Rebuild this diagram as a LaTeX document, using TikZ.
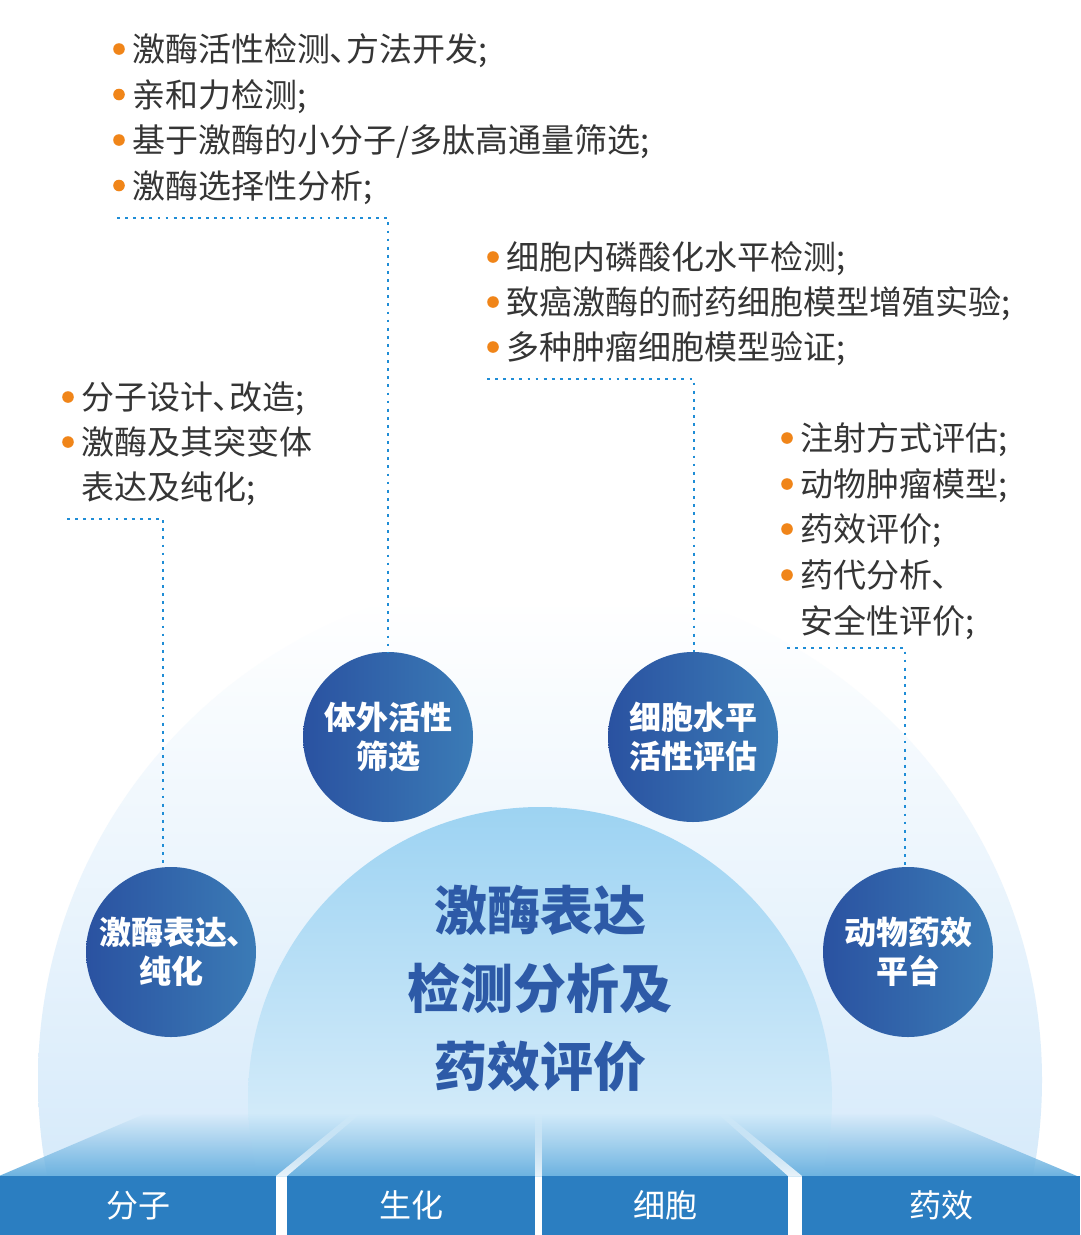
\documentclass[tikz,border=0pt]{standalone}
\usepackage{fontspec}
\usetikzlibrary{fadings}
\setmainfont{Noto Sans CJK SC}
\newfontfamily\paltfont[RawFeature=+palt]{Noto Sans CJK SC}
\definecolor{txtc}{HTML}{353535}
\definecolor{bulc}{HTML}{F08519}
\definecolor{dotc}{HTML}{1F8DD6}
\definecolor{cirL}{HTML}{2A52A1}
\definecolor{cirR}{HTML}{3B7BB6}
\definecolor{ctrc}{HTML}{2D5AA7}
\definecolor{barc}{HTML}{2B7EC1}
\definecolor{outB}{HTML}{D6EAFA}
\definecolor{innT}{HTML}{9DD3F2}
\definecolor{innB}{HTML}{DCEFFB}
\definecolor{trB}{HTML}{6CB2E0}
\newcommand\myitem[4]{%
  \fill[bulc] (#1,#2) circle (5.8);
  \node[itemtext] (#4) at ({#1+13},{#2+12.5}) {#3};}
\begin{document}
\begin{tikzpicture}[x=1pt,y=-1pt,
  itemtext/.style={anchor=base west,inner sep=0pt,text=txtc,font=\paltfont\fontsize{33}{40}\selectfont},
  dotline/.style={draw=dotc,line width=2.8pt,dash pattern=on 2.8pt off 5.3pt},
  bubble/.style={circle,minimum size=170pt,inner sep=0pt,left color=cirL,right color=cirR,
    text=white,align=center,font=\paltfont\fontsize{32}{39}\selectfont\bfseries},
  barbox/.style={rectangle,fill=barc,inner sep=0pt,minimum height=59pt,text=white,
    font=\fontsize{32}{40}\selectfont},
  ctrtext/.style={align=center,text=ctrc,font=\fontsize{53}{78}\selectfont\bfseries}]
\useasboundingbox (0,0) rectangle (1080,1235);
\fill[white] (0,0) rectangle (1080,1235);
% outer arc
\begin{scope}
  \clip (540,1080) circle (502);
  \shade[top color=white,bottom color=outB] (0,600) rectangle (1080,1176);
\end{scope}
% inner arc
\begin{scope}
  \clip (540,1099) circle (292);
  \shade[top color=innT,bottom color=innB] (0,807) rectangle (1080,1176);
\end{scope}
% perspective floor
\fill[trB,path fading=north] (0,1176) -- (148,1113) -- (930,1113) -- (1080,1176) -- cycle;
\fill[white,opacity=0.85,path fading=north] (276,1176) -- (353,1113) -- (361,1113) -- (287,1176) -- cycle;
\fill[white,opacity=0.85,path fading=north] (535,1176) -- (535,1113) -- (542,1113) -- (542,1176) -- cycle;
\fill[white,opacity=0.85,path fading=north] (788,1176) -- (717,1113) -- (725,1113) -- (802,1176) -- cycle;
% bottom bars
\node[barbox,minimum width=276pt] (b1) at (138,1205.5) {分子};
\node[barbox,minimum width=248pt] (b2) at (411,1205.5) {生化};
\node[barbox,minimum width=246pt] (b3) at (665,1205.5) {细胞};
\node[barbox,minimum width=278pt] (b4) at (941,1205.5) {药效};
% centre text
\node[ctrtext] (ct) at (540,989) {激酶表达\\检测分析及\\药效评价};
% circles
\node[bubble] (c1) at (171,952) {激酶表达、\\纯化};
\node[bubble] (c2) at (388,737) {体外活性\\筛选};
\node[bubble] (c3) at (693,737) {细胞水平\\活性评估};
\node[bubble] (c4) at (908,952) {动物药效\\平台};
% lists
\myitem{119}{49}{激酶活性检测、方法开发;}{t1}
\myitem{119}{94.5}{亲和力检测;}{t2}
\myitem{119}{140}{基于激酶的小分子/多肽高通量筛选;}{t3}
\myitem{119}{185.5}{激酶选择性分析;}{t4}
\myitem{493}{257}{细胞内磷酸化水平检测;}{m1}
\myitem{493}{302}{致癌激酶的耐药细胞模型增殖实验;}{m2}
\myitem{493}{347}{多种肿瘤细胞模型验证;}{m3}
\myitem{68}{397}{分子设计、改造;}{l1}
\myitem{68}{442}{激酶及其突变体}{l2}
\node[itemtext] (l3) at (81,499.5) {表达及纯化;};
\myitem{787}{438}{注射方式评估;}{r1}
\myitem{787}{484}{动物肿瘤模型;}{r2}
\myitem{787}{529}{药效评价;}{r3}
\myitem{787}{575}{药代分析、}{r4}
\node[itemtext] (r5) at (800,633.5) {安全性评价;};
% connectors
\coordinate (tA) at (117,218);
\coordinate (tB) at (388,218);
\draw[dotline] (tA) -- (tB) -- (tB |- c2.north);
\coordinate (mA) at (487,379);
\coordinate (mB) at (694,379);
\draw[dotline] (mA) -- (mB) -- (mB |- c3.north);
\coordinate (lA) at (67,519);
\coordinate (lB) at (163,519);
\draw[dotline] (lA) -- (lB) -- (lB |- c1.north);
\coordinate (rA) at (787,648);
\coordinate (rB) at (905,648);
\draw[dotline] (rA) -- (rB) -- (rB |- c4.north);
\end{tikzpicture}
\end{document}
